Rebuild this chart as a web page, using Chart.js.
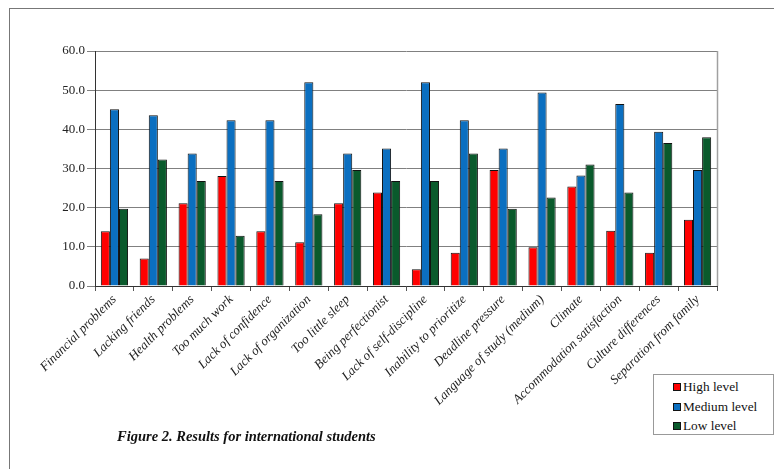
<!DOCTYPE html>
<html>
<head>
<meta charset="utf-8">
<script src="https://cdn.jsdelivr.net/npm/chart.js@4/dist/chart.umd.min.js"></script>
<style>
  body { margin: 0; background: #fff; }
  #wrap { position: relative; width: 774px; height: 469px; overflow: hidden; }
  #frame {
    position: absolute; left: 9px; top: 8px; width: 900px; height: 600px;
    border-left: 1px solid #777; border-top: 1px solid #777;
  }
  canvas { position: absolute; left: 0; top: 0; }
  #legend {
    position: absolute; left: 653px; top: 374px; width: 121px; height: 61px;
    border: 1px solid #999; box-sizing: border-box; background: #fff;
    font-family: "Liberation Serif", "DejaVu Serif", serif; font-size: 13.3px; color: #111;
    padding: 2px 0 0 19px;
  }
  #legend div { height: 19.5px; line-height: 19.5px; white-space: nowrap; }
  #legend span {
    display: inline-block; width: 6px; height: 6px; border: 1px solid #111;
    margin-right: 2px; vertical-align: 0px;
  }
  #caption {
    position: absolute; left: 117px; top: 428px;
    font-family: "Liberation Serif", "DejaVu Serif", serif;
    font-style: italic; font-weight: bold; font-size: 14.5px; color: #111;
    white-space: nowrap;
  }
</style>
</head>
<body>
<div id="wrap">
  <div id="frame"></div>
  <canvas id="chart" width="774" height="469"></canvas>
  <div id="legend"></div>
  <div id="caption">Figure 2. Results for international students</div>
</div>
<script>
'use strict';

// ── Data ──────────────────────────────────────────────────────────────────────

const CATEGORIES = [
  'Financial problems', 'Lacking friends', 'Health problems', 'Too much work',
  'Lack of confidence', 'Lack of organization', 'Too little sleep',
  'Being perfectionist', 'Lack of self-discipline', 'Inability to prioritize',
  'Deadline pressure', 'Language of study (medium)', 'Climate',
  'Accommodation satisfaction', 'Culture differences', 'Separation from family',
];

const HIGH = [14.0, 7.0, 21.1, 28.1, 14.0, 11.2, 21.1, 23.9, 4.3, 8.5, 29.6, 9.9, 25.4, 14.1, 8.5, 16.9];
const MEDIUM = [45.1, 43.6, 33.8, 42.3, 42.3, 52.0, 33.8, 35.1, 52.0, 42.3, 35.1, 49.4, 28.2, 46.5, 39.4, 29.6];
const LOW = [19.7, 32.3, 26.8, 12.8, 26.8, 18.3, 29.6, 26.8, 26.8, 33.8, 19.7, 22.6, 31.0, 23.9, 36.5, 38.0];

const SERIES = [
  { label: 'High level', data: HIGH, color: '#ff0000' },
  { label: 'Medium level', data: MEDIUM, color: '#0b6fc0' },
  { label: 'Low level', data: LOW, color: '#0a5a2c' },
];

// ── Chart ─────────────────────────────────────────────────────────────────────

const SERIF = "'Liberation Serif', 'DejaVu Serif', serif";

// gray right edge of the plot area
const plotEdge = {
  id: 'plotEdge',
  afterDraw(chart) {
    const { ctx, chartArea: a } = chart;
    ctx.save();
    ctx.strokeStyle = '#a0a0a0';
    ctx.lineWidth = 1.5;
    ctx.beginPath();
    ctx.moveTo(a.right + 0.5, a.top);
    ctx.lineTo(a.right + 0.5, a.bottom);
    ctx.stroke();
    ctx.restore();
  },
};

new Chart(document.getElementById('chart'), {
  type: 'bar',
  data: {
    labels: CATEGORIES,
    datasets: SERIES.map(s => ({
      label: s.label,
      data: s.data,
      backgroundColor: s.color,
      borderColor: '#111',
      borderWidth: 1,
      categoryPercentage: 0.7,
      barPercentage: 1.0,
    })),
  },
  options: {
    responsive: false,
    animation: false,
    layout: { padding: { left: 0, top: 51, right: 57, bottom: 0 } },
    plugins: { legend: { display: false }, tooltip: { enabled: false } },
    scales: {
      x: {
        afterFit(scale) { scale.height = 183; },
        grid: { drawOnChartArea: false, drawTicks: true, tickLength: 5, color: '#555', offset: true },
        border: { color: '#333', width: 1 },
        ticks: {
          autoSkip: false, minRotation: 45, maxRotation: 45, padding: 1,
          color: '#222', font: { family: SERIF, size: 13, style: 'italic' },
        },
      },
      y: {
        min: 0, max: 60,
        afterFit(scale) { scale.width = 95; },
        grid: { color: '#808080', tickLength: 8 },
        border: { color: '#333', width: 1 },
        ticks: {
          stepSize: 10, padding: 2,
          color: '#222', font: { family: SERIF, size: 13 },
          callback: v => v.toFixed(1),
        },
      },
    },
  },
  plugins: [plotEdge],
});

// ── Legend ────────────────────────────────────────────────────────────────────

const legend = document.getElementById('legend');
SERIES.forEach(s => {
  const row = document.createElement('div');
  const box = document.createElement('span');
  box.style.background = s.color;
  row.appendChild(box);
  row.appendChild(document.createTextNode(s.label));
  legend.appendChild(row);
});
</script>
</body>
</html>
